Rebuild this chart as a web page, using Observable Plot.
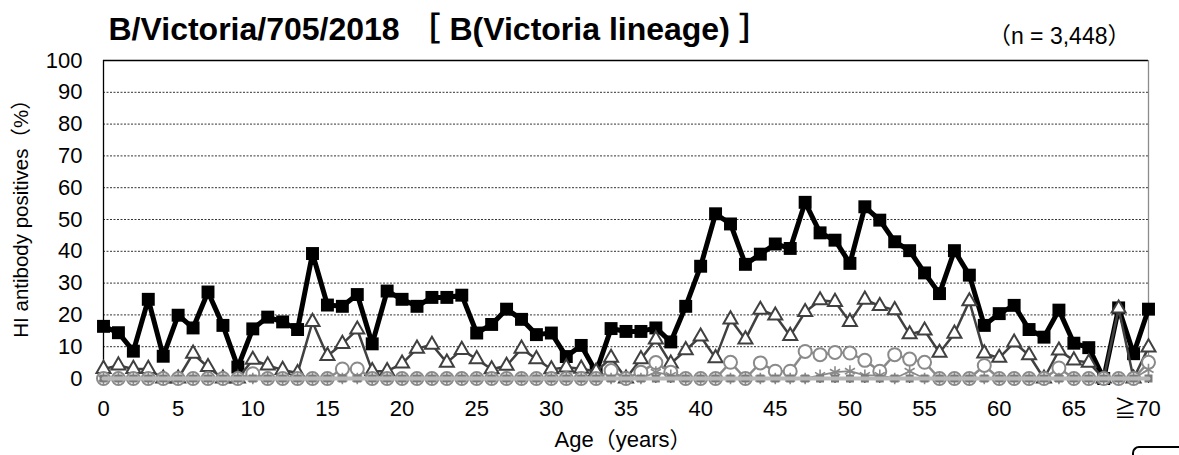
<!DOCTYPE html>
<html>
<head>
<meta charset="utf-8">
<script src="https://cdn.jsdelivr.net/npm/d3@7"></script>
<script src="https://cdn.jsdelivr.net/npm/@observablehq/plot@0.6"></script>
<style>
  html, body { margin: 0; padding: 0; background: #fff; }
  #wrap { position: relative; width: 1179px; height: 455px; overflow: hidden; }
  #corner { position: absolute; left: 1132px; top: 446px; width: 60px; height: 12px;
            border-top: 2px solid #000; border-left: 2px solid #000; border-top-left-radius: 7px; }
</style>
</head>
<body>
<div id="wrap"><div id="corner"></div></div>
<script>
// ---- data ----
const ages = d3.range(0, 71); // 0..69 and the last group "≧70"
const xTickValues = [0, 5, 10, 15, 20, 25, 30, 35, 40, 45, 50, 55, 60, 65, 70];
const xTickLabels = ["0", "5", "10", "15", "20", "25", "30", "35", "40", "45", "50", "55", "60", "65", "≧70"];
const yTicks = [0, 10, 20, 30, 40, 50, 60, 70, 80, 90, 100];

const titleText = "B/Victoria/705/2018 ［ B(Victoria lineage) ］";
const nText = "（n = 3,448）";
const yLabel = "HI antibody positives（%）";
const xLabel = "Age（years）";

// black squares
const hi10 = [16.4, 14.4, 8.6, 24.9, 7.0, 19.9, 15.9, 27.2, 16.7, 3.6,
  15.6, 19.3, 17.8, 15.4, 39.3, 23.1, 22.7, 26.4, 10.9, 27.5,
  24.9, 22.7, 25.5, 25.5, 26.2, 14.3, 17.0, 21.8, 18.6, 13.8,
  14.3, 6.9, 10.4, 2.0, 15.7, 14.8, 14.8, 15.9, 11.5, 22.7,
  35.3, 51.8, 48.6, 35.9, 39.1, 42.3, 40.9, 55.4, 45.8, 43.5,
  36.2, 54.0, 49.8, 43.0, 40.2, 33.2, 26.7, 40.2, 32.5, 16.7,
  20.4, 23.0, 15.4, 13.0, 21.5, 11.1, 9.7, 0, 22.2, 7.8,
  21.8];
// dark grey open triangles
const hi40 = [3.0, 4.1, 3.0, 3.0, 0, 0, 7.8, 3.6, 0, 0,
  5.9, 4.1, 2.7, 1.7, 17.8, 7.1, 10.9, 15.4, 2.3, 2.3,
  4.7, 9.4, 10.6, 5.0, 9.0, 6.1, 2.9, 4.0, 9.4, 6.1,
  2.9, 3.5, 3.1, 2.2, 6.5, 0, 6.1, 12.3, 4.7, 8.9,
  13.2, 6.4, 18.6, 12.3, 21.6, 19.8, 13.4, 20.9, 24.6, 24.1,
  17.8, 24.8, 22.8, 21.5, 13.9, 15.1, 8.1, 14.1, 24.3, 7.9,
  6.5, 11.3, 7.3, 0, 8.8, 5.7, 5.0, 0, 22.0, 0,
  9.8];
// grey open circles
const hi160 = [0, 0, 0, 0, 0, 0, 0, 0, 0, 0,
  1.5, 0, 0, 0, 0, 0, 3.0, 3.0, 0, 0,
  0, 0, 0, 0, 0, 0, 0, 0, 0, 0,
  0, 0, 0, 0, 2.5, 0, 2.0, 5.0, 2.0, 0,
  0, 0, 5.1, 0, 4.9, 2.3, 2.3, 8.5, 7.5, 8.2,
  8.0, 5.7, 2.3, 7.5, 6.1, 5.1, 0, 0, 0, 4.1,
  0, 0, 0, 0, 3.3, 0, 0, 0, 0, 0,
  5.1];
// grey asterisks
const hi640 = [0, 0, 0, 0, 0, 0, 0, 0, 0, 0,
  0, 0, 0, 0, 0, 0, 0, 0, 0, 0,
  0, 0, 0, 0, 0, 0, 0, 0, 0, 0,
  0, 0, 0, 0, 0, 0, 0, 2.0, 1.0, 0,
  0, 0, 0, 0, 0, 0, 0, 0, 1.0, 2.0,
  2.3, 1.0, 1.0, 0, 2.3, 0, 0, 0, 0, 0,
  0, 0, 0, 0, 0, 0, 0, 0, 0, 0,
  2.8];
// higher titres, all zero
const hi2560 = ages.map(() => 0);

const toRows = (arr) => ages.map((a, i) => ({age: a, value: arr[i]}));
const s10 = toRows(hi10), s40 = toRows(hi40), s160 = toRows(hi160),
      s640 = toRows(hi640), s2560 = toRows(hi2560);

const font = "'Liberation Sans', Arial, 'Noto Sans CJK JP', sans-serif";
const lastTick = xTickValues[xTickValues.length - 1];

const chart = Plot.plot({
  width: 1179,
  height: 455,
  marginLeft: 103,
  marginRight: 31,
  marginTop: 60,
  marginBottom: 77,
  style: {fontFamily: font, fontSize: "22px", color: "#000", background: "#fff", overflow: "visible"},
  x: {domain: [0, 70]},
  y: {domain: [0, 100]},
  marks: [
    Plot.ruleY(yTicks.filter(d => d > 0 && d < 100), {stroke: "#333", strokeWidth: 1, strokeDasharray: "2,1.5"}),
    Plot.ruleY([100], {stroke: "#000", strokeWidth: 1.3}),
    Plot.ruleX([0], {stroke: "#000", strokeWidth: 1.3}),
    Plot.ruleX([70], {stroke: "#8c8c8c", strokeWidth: 1.3}),
    Plot.axisY({ticks: yTicks, tickSize: 0, tickPadding: 21, fontSize: 22, label: null}),
    Plot.axisX({ticks: xTickValues.slice(0, -1), tickSize: 0, tickPadding: 22, fontSize: 22, label: null,
      tickFormat: d => xTickLabels[xTickValues.indexOf(d)]}),
    Plot.text([lastTick], {x: d => d, frameAnchor: "bottom", lineAnchor: "top", dy: 22, dx: -11,
      text: d => xTickLabels[xTickValues.indexOf(d)], fontSize: 22, fill: "#000"}),
    Plot.axisX({ticks: ages, tickSize: 5, tickFormat: () => "", label: null, stroke: "#000"}),
    // black squares
    Plot.line(s10, {x: "age", y: "value", stroke: "#000", strokeWidth: 5, strokeLinejoin: "miter"}),
    Plot.dot(s10, {x: "age", y: "value", symbol: "square", r: 7.3, fill: "#000"}),
    // triangles
    Plot.line(s40, {x: "age", y: "value", stroke: "#404040", strokeWidth: 2.5}),
    Plot.dot(s40, {x: "age", y: "value", symbol: "triangle", r: 5.2, fill: "#fff", stroke: "#404040", strokeWidth: 2}),
    // circles
    Plot.line(s160, {x: "age", y: "value", stroke: "#8a8a8a", strokeWidth: 2.5}),
    Plot.dot(s160, {x: "age", y: "value", symbol: "circle", r: 6.5, fill: "#fff", stroke: "#8a8a8a", strokeWidth: 2}),
    // asterisks
    Plot.line(s640, {x: "age", y: "value", stroke: "#8a8a8a", strokeWidth: 1.8}),
    Plot.dot(s640, {x: "age", y: "value", symbol: "asterisk", r: 5.5, stroke: "#8a8a8a", strokeWidth: 1.6}),
    // zero-level series
    Plot.dot(s2560, {x: "age", y: "value", symbol: "square", r: 4.5, fill: "#7a7a7a"}),
    Plot.line(s2560, {x: "age", y: "value", stroke: "#b8b8b8", strokeWidth: 4}),
    // texts
    Plot.text([titleText], {frameAnchor: "top-left", textAnchor: "start", lineAnchor: "middle", dx: 5, dy: -31,
      fontSize: 32, fontWeight: "bold", fill: "#000"}),
    Plot.text([nText], {frameAnchor: "top-right", textAnchor: "end", lineAnchor: "middle", dx: -18, dy: -24,
      fontSize: 23, fill: "#000"}),
    Plot.text([yLabel], {frameAnchor: "left", textAnchor: "middle", lineAnchor: "middle", rotate: -90, dx: -82, dy: -6,
      fontSize: 20.5, fill: "#000"}),
    Plot.text([xLabel], {frameAnchor: "bottom", textAnchor: "middle", lineAnchor: "middle", dx: -3, dy: 61,
      fontSize: 22, fill: "#000"})
  ]
});
document.getElementById("wrap").prepend(chart);
</script>
</body>
</html>
